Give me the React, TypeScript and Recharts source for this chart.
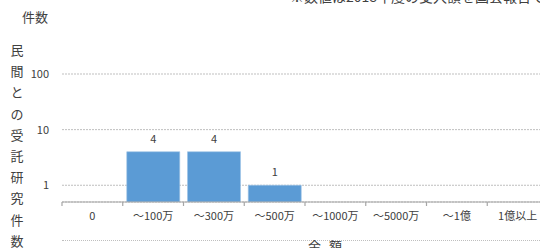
import { BarChart, Bar, XAxis, YAxis, CartesianGrid, LabelList } from "recharts";

const categories = ["0", "～100万", "～300万", "～500万", "～1000万", "～5000万", "～1億", "1億以上"];
const counts = [0, 4, 4, 1, 0, 0, 0, 0];
const yTicks = [1, 10, 100];
const yTitle = "民間との受託研究件数";

const data = categories.map((name, i) => ({
  name,
  // log scale cannot show zero, leave those empty
  count: counts[i] > 0 ? counts[i] : null,
}));

const FONT = "'Noto Sans CJK JP', 'Noto Sans', sans-serif";
const TEXT = "#404040";

function CategoryTick(props: any) {
  const { x, y, payload, width, visibleTicksCount } = props;
  const band = width / visibleTicksCount;
  const left = x - band / 2;
  return (
    <g>
      <line x1={left} y1={y} x2={left} y2={y + 4} stroke="#a6a6a6" strokeWidth={1.2} />
      <text x={x} y={y + 18} textAnchor="middle" fill={TEXT} fontSize={11} fontFamily={FONT}>
        {payload.value}
      </text>
    </g>
  );
}

export default function App() {
  return (
    <div
      style={{
        position: "absolute",
        left: 0,
        top: 0,
        width: 540,
        height: 248,
        overflow: "hidden",
        background: "#fff",
        fontFamily: FONT,
        color: TEXT,
      }}
    >
      <div style={{ position: "absolute", left: 290, top: -14, fontSize: 14, whiteSpace: "nowrap" }}>
        ※数値は2018年度の受入額を国会報告で公表
      </div>
      <div style={{ position: "absolute", left: 22, top: 7, fontSize: 13 }}>件数</div>
      {yTitle.split("").map((ch, i) => (
        <div
          key={i}
          style={{ position: "absolute", left: 10, top: 40 + i * 21.2, fontSize: 13, width: 14, textAlign: "center" }}
        >
          {ch}
        </div>
      ))}
      <div style={{ position: "absolute", left: 62, top: 240, width: 478, borderTop: "1px dotted #bfbfbf" }} />
      <div style={{ position: "absolute", left: 308, top: 236, fontSize: 13, whiteSpace: "nowrap", letterSpacing: 8 }}>
        金額
      </div>
      <BarChart
        width={548}
        height={248}
        data={data}
        margin={{ top: 74, right: 0, left: 0, bottom: 0 }}
        barCategoryGap={4}
      >
        <CartesianGrid vertical={false} stroke="#bfbfbf" strokeDasharray="2 1" />
        <XAxis
          dataKey="name"
          height={46}
          interval={0}
          tickSize={0}
          tickMargin={0}
          axisLine={{ stroke: "#a6a6a6", strokeWidth: 1.2 }}
          tickLine={false}
          tick={<CategoryTick />}
        />
        <YAxis
          width={62}
          scale="log"
          type="number"
          domain={[0.5, 100]}
          allowDataOverflow
          ticks={yTicks}
          axisLine={false}
          tickLine={false}
          tickSize={0}
          tickMargin={13}
          tick={{ fill: TEXT, fontSize: 11, fontFamily: FONT }}
        />
        <Bar dataKey="count" fill="#5b9bd5" stroke="#9dc3e6" strokeWidth={0.6} isAnimationActive={false}>
          <LabelList
            dataKey="count"
            position="top"
            offset={9}
            style={{ fill: TEXT, fontSize: 11, fontFamily: FONT }}
          />
        </Bar>
      </BarChart>
    </div>
  );
}
